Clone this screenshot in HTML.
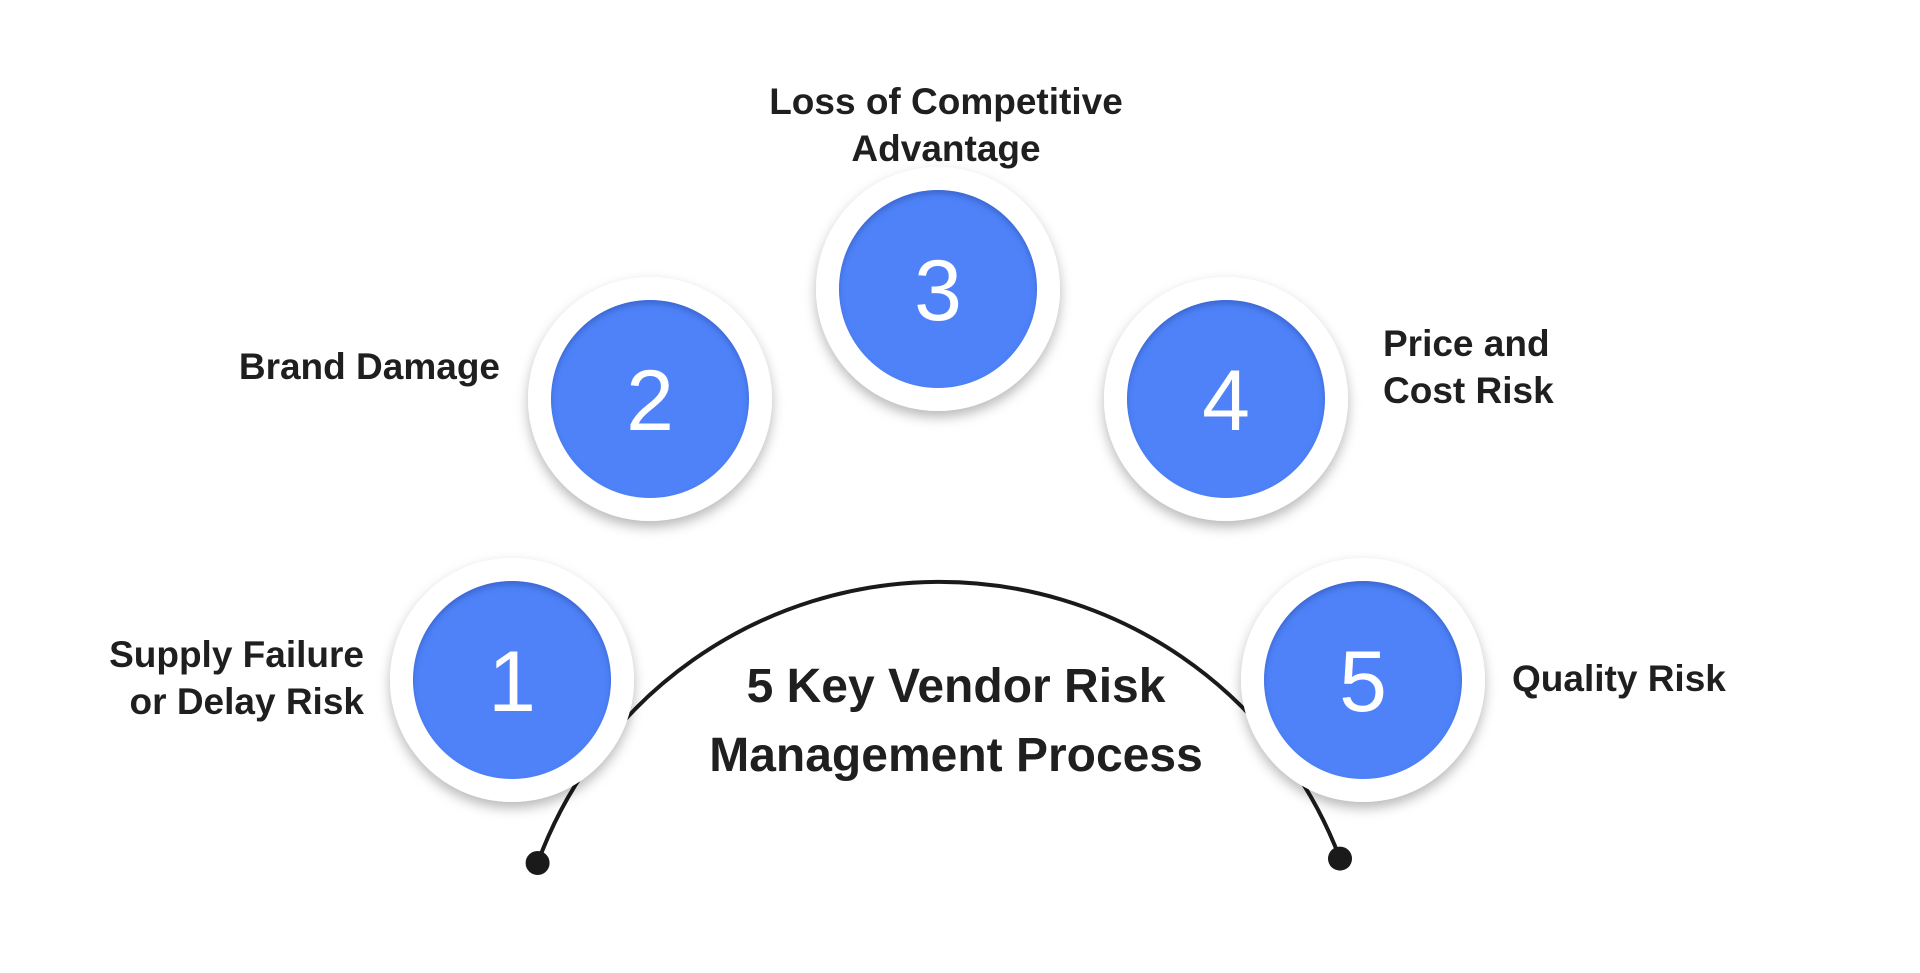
<!DOCTYPE html>
<html><head><meta charset="utf-8"><style>
html,body{margin:0;padding:0;background:#fff;}
body{width:1920px;height:973px;position:relative;overflow:hidden;font-family:"Liberation Sans",sans-serif;color:#1f1f1f;}
svg{position:absolute;left:0;top:0;}
.t{position:absolute;font-weight:bold;font-size:37px;line-height:47px;white-space:nowrap;}
</style></head><body>
<svg width="1920" height="973" viewBox="0 0 1920 973">
<defs>
<filter id="sh" x="-30%" y="-30%" width="160%" height="170%">
<feDropShadow dx="0" dy="6" stdDeviation="6" flood-color="#000" flood-opacity="0.28"/>
</filter>
<filter id="ins" x="-10%" y="-10%" width="120%" height="120%">
<feOffset dy="4"/><feGaussianBlur stdDeviation="3" result="b"/>
<feComposite in="SourceGraphic" in2="b" operator="out" result="o"/>
<feFlood flood-color="#2a4fb0" flood-opacity="0.6"/><feComposite in2="o" operator="in" result="s"/>
<feMerge><feMergeNode in="SourceGraphic"/><feMergeNode in="s"/></feMerge>
</filter>
</defs>
<path d="M537.6 863 A428 428 0 0 1 1340 858.6" fill="none" stroke="#1a1a1a" stroke-width="4"/>
<circle cx="537.6" cy="863" r="12" fill="#1a1a1a"/>
<circle cx="1340" cy="858.6" r="12" fill="#1a1a1a"/>
<g font-family="Liberation Sans, sans-serif" font-size="86" fill="#fff" text-anchor="middle">
<g><circle cx="512" cy="680" r="122" fill="#fff" filter="url(#sh)"/><circle cx="512" cy="680" r="99" fill="#5082f8" filter="url(#ins)"/><text x="512" y="711">1</text></g>
<g><circle cx="650" cy="399" r="122" fill="#fff" filter="url(#sh)"/><circle cx="650" cy="399" r="99" fill="#5082f8" filter="url(#ins)"/><text x="650" y="430">2</text></g>
<g><circle cx="938" cy="289" r="122" fill="#fff" filter="url(#sh)"/><circle cx="938" cy="289" r="99" fill="#5082f8" filter="url(#ins)"/><text x="938" y="320">3</text></g>
<g><circle cx="1226" cy="399" r="122" fill="#fff" filter="url(#sh)"/><circle cx="1226" cy="399" r="99" fill="#5082f8" filter="url(#ins)"/><text x="1226" y="430">4</text></g>
<g><circle cx="1363" cy="680" r="122" fill="#fff" filter="url(#sh)"/><circle cx="1363" cy="680" r="99" fill="#5082f8" filter="url(#ins)"/><text x="1363" y="711">5</text></g>
</g>
</svg>
<div class="t" style="left:746px;top:78px;width:400px;text-align:center;">Loss of Competitive<br>Advantage</div>
<div class="t" style="left:100px;top:343px;width:400px;text-align:right;">Brand Damage</div>
<div class="t" style="left:-36px;top:631px;width:400px;text-align:right;">Supply Failure<br>or Delay Risk</div>
<div class="t" style="left:1383px;top:320px;">Price and<br>Cost Risk</div>
<div class="t" style="left:1512px;top:655px;">Quality Risk</div>
<div class="t" style="left:656px;top:652px;width:600px;text-align:center;font-size:48px;line-height:69px;">5 Key Vendor Risk<br>Management Process</div>
</body></html>
